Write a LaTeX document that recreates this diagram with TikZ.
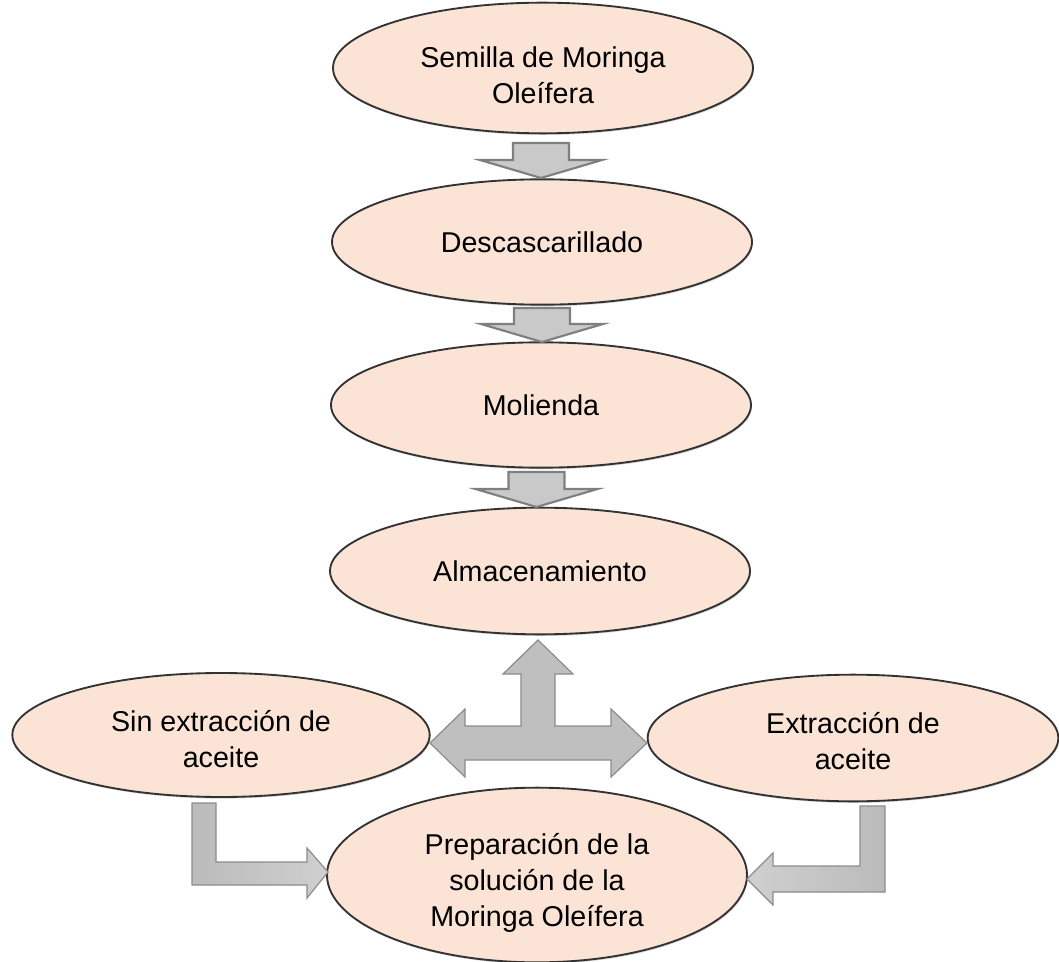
\documentclass[tikz,border=0pt]{standalone}
\usepackage{fontspec}
\setmainfont{Liberation Sans}
\usepackage{xcolor}
\usetikzlibrary{shapes.geometric,shadows}

\definecolor{peach}{HTML}{FBE4D5}
\definecolor{rim}{HTML}{333333}
\definecolor{arrgray}{HTML}{C9C9C9}
\definecolor{arredge}{HTML}{7F7F7F}

\tikzset{
  proc/.style={ellipse, draw=rim, line width=1.4pt, fill=peach, inner sep=0pt,
    align=center, font=\fontsize{21.5}{27}\selectfont,
    drop shadow={shadow xshift=0.6pt, shadow yshift=-1.2pt, opacity=0.35}},
  txt/.style={inner sep=0pt, align=center, font=\fontsize{21.5}{27}\selectfont},
  downblk/.style={draw=arredge, line width=1.6pt, fill=arrgray, line join=miter},
  blkarrow/.style={draw=arredge!90, line width=0.9pt, line join=miter}
}

\begin{document}
\begin{tikzpicture}[x=0.75pt,y=0.75pt,yscale=-1,xscale=1]
\useasboundingbox (0,0) rectangle (1059,962);

%Shape: Ellipse
\node[proc, minimum width=315pt, minimum height=98pt] (semilla) at (543,68) {};
%Shape: Ellipse
\node[proc, minimum width=315pt, minimum height=94pt] (descas) at (542,242) {Descascarillado};
%Shape: Ellipse
\node[proc, minimum width=315pt, minimum height=94pt] (molienda) at (541,405) {Molienda};
%Shape: Ellipse
\node[proc, minimum width=315pt, minimum height=95pt] (almac) at (540,571) {Almacenamiento};
%Shape: Ellipse
\node[proc, minimum width=313pt, minimum height=93pt] (sinext) at (221,735) {};
%Shape: Ellipse
\node[proc, minimum width=308pt, minimum height=95pt] (conext) at (853,738) {};
%Shape: Ellipse
\node[proc, minimum width=315pt, minimum height=131pt] (prep) at (537,875) {};

% Text Node
\node[txt] (semilla-t) at ([yshift=5.5pt]semilla.center) {Semilla de Moringa\\Oleífera};
% Text Node
\node[txt] (sinext-t) at ([yshift=3pt]sinext.center) {Sin extracción de\\aceite};
% Text Node
\node[txt] (conext-t) at ([yshift=2.2pt]conext.center) {Extracción de\\aceite};
% Text Node
\node[txt] (prep-t) at ([yshift=6pt]prep.center) {Preparación de la\\solución de la\\Moringa Oleífera};

%Shape: Down Arrows
\foreach \cx/\ty/\hy/\tp in {541/143/160/178, 542/308/324/342, 536.5/472/489/507}
  \draw[downblk] ({\cx-28},\ty) -- ({\cx+28},\ty) -- ({\cx+28},\hy) -- ({\cx+61},\hy)
    -- (\cx,\tp) -- ({\cx-61},\hy) -- ({\cx-28},\hy) -- cycle ;

%Shape: Three-way Arrow
\draw[blkarrow, fill=arrgray!95!black] (538,640) -- (573,674) -- (555,674) -- (555,726) -- (611,726)
  -- (611,709) -- (647,743) -- (611,777) -- (611,760) -- (465,760) -- (465,777) -- (430,743)
  -- (465,709) -- (465,726) -- (521,726) -- (521,674) -- (503,674) -- cycle ;

%Shape: Bent Arrow
\draw[blkarrow, left color=arrgray!93!black, right color=arrgray!88!white] (192,803) -- (216,803) -- (216,862)
  -- (307,862) -- (307,848) -- (328,872) -- (307,898) -- (307,885) -- (192,885) -- cycle ;
%Shape: Bent Arrow
\draw[blkarrow, left color=arrgray!88!white, right color=arrgray!93!black] (885,806) -- (860,806) -- (860,866)
  -- (773,866) -- (773,853) -- (747,879) -- (773,905) -- (773,892) -- (885,892) -- cycle ;

\end{tikzpicture}
\end{document}
